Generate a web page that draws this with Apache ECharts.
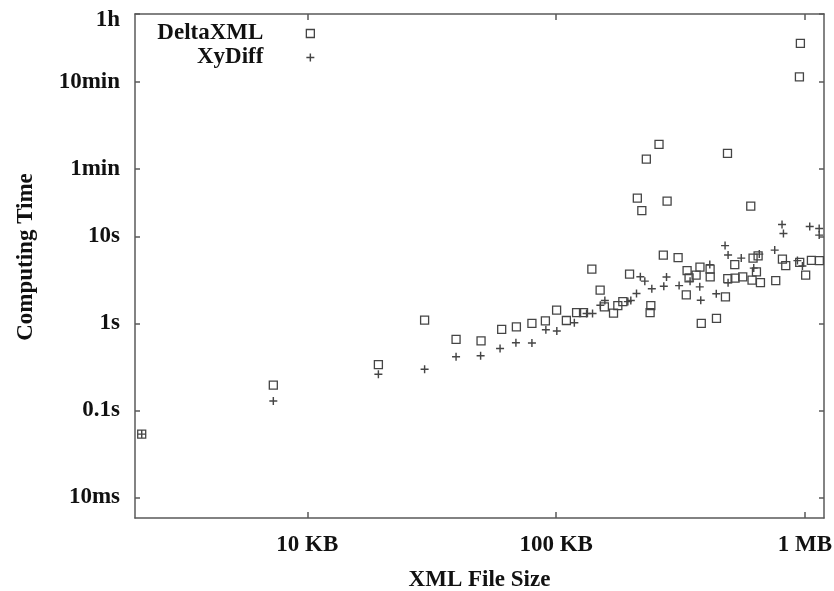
<!DOCTYPE html>
<html>
<head>
<meta charset="utf-8">
<script src="https://cdn.jsdelivr.net/npm/echarts@6/dist/echarts.min.js"></script>
<style>
  html, body { margin: 0; padding: 0; background: #ffffff; }
  #chart { width: 834px; height: 591px; }
</style>
</head>
<body>
<div id="chart"></div>
<script>
// Tick positions and their labels
const sizeTicks = [10, 100, 1000];                 // KB
const sizeTickLabels = ['10 KB', '100 KB', '1 MB'];
const timeTicks = [0.01, 0.1, 1, 10, 60, 600, 3600]; // seconds
const timeTickLabels = ['10ms', '0.1s', '1s', '10s', '1min', '10min', '1h'];

// DeltaXML: file size (KB) and computing time (s)
const deltaSizeKB = [2.16, 7.30, 19.3, 29.6, 39.6, 49.9, 60.4, 69.2, 79.9, 90.5,
  100.4, 109.9, 120.8, 128.8, 139.1, 150.2, 156.2, 170.0, 176.9, 185.3,
  197.2, 240.1, 238.5, 211.9, 220.9, 279.1, 230.3, 259.0, 269.5, 309.0,
  335.8, 342.0, 365.0, 378.3, 415.5, 415.9, 333.3, 382.9, 440.7, 478.9,
  489.3, 523.5, 562, 522, 618.3, 647.8, 638, 612.5, 662, 762.6,
  811.3, 836.6, 952, 1006, 1061, 1142, 488, 605.3, 958, 949.5];
const deltaTimeS = [0.0534, 0.195, 0.336, 1.09, 0.655, 0.631, 0.853, 0.914, 1.00, 1.07,
  1.42, 1.08, 1.33, 1.33, 4.21, 2.41, 1.55, 1.31, 1.60, 1.78,
  3.69, 1.60, 1.33, 27.6, 19.8, 25.5, 77.4, 114, 6.10, 5.71,
  4.05, 3.34, 3.59, 4.44, 4.21, 3.43, 2.13, 1.00, 1.14, 2.02,
  3.27, 3.32, 3.43, 4.74, 5.63, 5.98, 3.92, 3.15, 2.94, 3.10,
  5.48, 4.62, 5.03, 3.59, 5.30, 5.27, 89.9, 22.3, 1654, 683];

// XyDiff: file size (KB) and computing time (s)
const xyDiffSizeKB = [2.16, 7.30, 19.3, 29.6, 39.6, 49.7, 59.5, 68.9, 79.9, 90.9,
  100.6, 118.3, 132.5, 140.0, 150.5, 156.9, 194.1, 199.5, 210.3, 217.9,
  227.1, 242.3, 270.7, 277.6, 311.9, 345.2, 377.6, 414.3, 381.1, 439.9,
  477.2, 490.7, 554.3, 490.7, 622.3, 655.1, 755.5, 932.2, 976.3, 808.4,
  819, 1044.5, 1140, 1140];
const xyDiffTimeS = [0.0534, 0.128, 0.261, 0.297, 0.413, 0.424, 0.516, 0.598, 0.594, 0.844,
  0.816, 1.02, 1.30, 1.30, 1.62, 1.83, 1.78, 1.83, 2.21, 3.43,
  3.06, 2.50, 2.68, 3.41, 2.72, 3.06, 2.63, 4.74, 1.85, 2.19,
  7.84, 6.10, 5.63, 2.94, 4.32, 6.26, 6.96, 5.27, 4.56, 13.7,
  10.8, 13.0, 12.3, 10.35];

const FONT = "'Liberation Serif', 'Times New Roman', serif";
const TEXT = '#111111';
const AXIS = '#5a5a5a';
const MARK = '#454545';
const SQUARE = 'path://M0,0H10V10H0Z';
const PLUS = 'path://M4.1,0H5.9V4.1H10V5.9H5.9V10H4.1V5.9H0V4.1H4.1Z';

const zip = (xs, ys) => xs.map((x, i) => [x, ys[i]]);
const labelOf = (ticks, labels) => (v) => {
  const i = ticks.findIndex(t => Math.abs(Math.log10(t) - Math.log10(v)) < 1e-6);
  return i < 0 ? '' : labels[i];
};
const sizeLabel = labelOf(sizeTicks, sizeTickLabels);
const timeLabel = labelOf(timeTicks, timeTickLabels);

const labelFont = { fontFamily: FONT, fontSize: 23, fontWeight: 'bold', color: TEXT };
const lineStyle = { color: AXIS, width: 1.5 };

function xAxisOf(position, withLabels) {
  return {
    type: 'log', logBase: 10, min: 2.03, max: 1192, position: position,
    axisLine: { show: true, lineStyle: lineStyle },
    axisTick: { show: true, inside: true, length: 6, customValues: sizeTicks, lineStyle: lineStyle },
    minorTick: { show: false },
    splitLine: { show: false },
    axisLabel: Object.assign({ show: withLabels, customValues: sizeTicks, margin: 16,
      formatter: sizeLabel }, labelFont),
    name: withLabels ? 'XML File Size' : '',
    nameLocation: 'middle', nameGap: 51,
    nameTextStyle: labelFont
  };
}
function yAxisOf(position, withLabels) {
  return {
    type: 'log', logBase: 10, min: 0.0058, max: 3600, position: position,
    axisLine: { show: true, lineStyle: lineStyle },
    axisTick: { show: true, inside: true, length: 5, customValues: timeTicks, lineStyle: lineStyle },
    minorTick: { show: false },
    splitLine: { show: false },
    axisLabel: Object.assign({ show: withLabels, customValues: timeTicks, margin: 15,
      formatter: (v) => {
        const s = timeLabel(v);
        return v >= 3000 ? '{top|' + s + '}' : s;
      },
      rich: { top: Object.assign({ padding: [12, 0, 0, 0] }, labelFont) }
    }, labelFont),
    name: withLabels ? 'Computing Time' : '',
    nameLocation: 'middle', nameGap: 97, nameRotate: 90,
    nameTextStyle: Object.assign({ padding: [0, 0, 0, 18] }, labelFont)
  };
}

const chart = echarts.init(document.getElementById('chart'), null, { renderer: 'canvas' });
chart.setOption({
  animation: false,
  backgroundColor: '#ffffff',
  grid: { left: 135, right: 10, top: 14, bottom: 73, containLabel: false, outerBoundsMode: 'none' },
  xAxis: [xAxisOf('bottom', true), xAxisOf('top', false)],
  yAxis: [yAxisOf('left', true), yAxisOf('right', false)],
  legend: {
    orient: 'vertical', align: 'right',
    right: 519, top: 22, padding: 0, itemGap: 1,
    itemWidth: 84, itemHeight: 8,
    selectedMode: false,
    textStyle: { fontFamily: FONT, fontSize: 23, fontWeight: 'bold', color: TEXT },
    data: [
      { name: 'DeltaXML', icon: SQUARE, itemStyle: { borderWidth: 1.3 } },
      { name: 'XyDiff', icon: PLUS, itemStyle: { borderWidth: 0 } }
    ]
  },
  series: [
    {
      name: 'XyDiff', type: 'scatter', xAxisIndex: 0, yAxisIndex: 0,
      symbol: PLUS, symbolSize: 8, symbolKeepAspect: true, silent: true,
      itemStyle: { color: MARK, borderWidth: 0, opacity: 1 },
      data: zip(xyDiffSizeKB, xyDiffTimeS)
    },
    {
      name: 'DeltaXML', type: 'scatter', xAxisIndex: 0, yAxisIndex: 0,
      symbol: SQUARE, symbolSize: 8, symbolKeepAspect: true, silent: true,
      itemStyle: { color: 'rgba(0,0,0,0)', borderColor: MARK, borderWidth: 1.3, opacity: 1 },
      data: zip(deltaSizeKB, deltaTimeS)
    }
  ]
});
</script>
</body>
</html>
